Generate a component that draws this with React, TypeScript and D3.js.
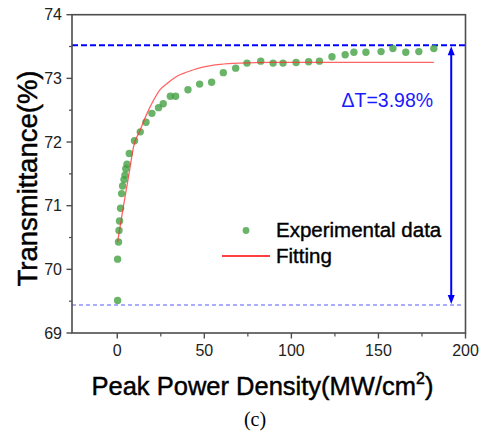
import React, { useLayoutEffect } from "react";
import * as d3 from "d3";

// Experimental data: peak power density (MW/cm^2) vs transmittance (%)
const expX = [0.2, 0.2, 0.7, 1.0, 1.3, 1.9, 2.5, 3.05, 3.85, 4.4, 4.9, 5.6, 6.9, 9.9, 13.2, 16.5, 19.9, 23.7, 26.4, 30.5, 33.5, 40.6, 47.3, 54.2, 60.9, 68.0, 74.5, 82.4, 89.5, 95.2, 102.7, 109.9, 116.1, 123.3, 130.9, 135.9, 142.8, 151.5, 158.3, 165.7, 173.2, 181.8];
const expY = [69.51, 70.16, 70.43, 70.61, 70.76, 70.96, 71.19, 71.31, 71.41, 71.48, 71.58, 71.65, 71.82, 72.02, 72.16, 72.31, 72.45, 72.54, 72.6, 72.72, 72.72, 72.82, 72.91, 72.94, 73.09, 73.16, 73.24, 73.27, 73.24, 73.24, 73.25, 73.26, 73.27, 73.34, 73.37, 73.41, 73.41, 73.42, 73.47, 73.41, 73.42, 73.47];

// Fitting curve
const fitX = [0.2, 3.6, 7.1, 9.4, 13.2, 17.1, 20.9, 24.5, 28.6, 34.0, 40.1, 49.6, 59.2, 70.7, 87.9, 120, 150, 181.8];
const fitY = [70.43, 71.0, 71.56, 71.93, 72.19, 72.45, 72.66, 72.82, 72.92, 73.03, 73.1, 73.18, 73.22, 73.24, 73.25, 73.25, 73.25, 73.25];

const xTicks = [0, 50, 100, 150, 200];
const xMinorTicks = [25, 75, 125, 175];
const yTicks = [69, 70, 71, 72, 73, 74];
const yMinorTicks = [69.5, 70.5, 71.5, 72.5, 73.5];

const upperLevel = 73.52;
const lowerLevel = 69.44;
const arrowX = 191.8;
const deltaLabel = "ΔT=3.98%";

const W = 479;
const H = 434;

export default function App() {
  useLayoutEffect(() => {
    document.body.style.margin = "0";
  }, []);

  const x = d3.scaleLinear().domain([-26, 200]).range([72, 465.5]);
  const y = d3.scaleLinear().domain([69, 74]).range([333, 14.7]);

  const fitLine = d3
    .line<number>()
    .x((_, i) => x(fitX[i]))
    .y((d) => y(d))
    .curve(d3.curveMonotoneX);

  const axisColor = "#4d4d4d";
  const font = "'Liberation Sans', Arial, sans-serif";
  const blue = "#0000ff";

  const ax = x(arrowX);
  const yTop = y(upperLevel);
  const yBot = y(lowerLevel);

  return (
    <svg width={W} height={H} style={{ display: "block" }}>
      <rect width={W} height={H} fill="#fff" />
      <defs>
        <clipPath id="plotclip">
          <rect x={72} y={14.7} width={393.5} height={318.3} />
        </clipPath>
      </defs>

      {/* dashed reference lines */}
      <line x1={x(-26)} x2={x(200)} y1={yTop} y2={yTop} stroke={blue} strokeWidth={2} strokeDasharray="6,3" />
      <line x1={x(-26)} x2={x(198)} y1={yBot} y2={yBot} stroke="#5a5aff" strokeWidth={1.2} strokeDasharray="4,3" />

      {/* double arrow */}
      <line x1={ax} x2={ax} y1={yTop + 6} y2={yBot - 6} stroke={blue} strokeWidth={2} />
      <path d={`M${ax},${yTop + 1} L${ax - 3.5},${yTop + 10} L${ax + 3.5},${yTop + 10} Z`} fill={blue} />
      <path d={`M${ax},${yBot - 1} L${ax - 3.5},${yBot - 10} L${ax + 3.5},${yBot - 10} Z`} fill={blue} />
      <text x={341.5} y={106.5} fontFamily={font} fontSize={19.5} fill="#1a1aff">
        {deltaLabel}
      </text>

      {/* data */}
      <g clipPath="url(#plotclip)">
        {expY.map((v, i) => (
          <circle key={i} cx={x(expX[i])} cy={y(v)} r={3.7} fill="#3f9f3f" fillOpacity={0.78} />
        ))}
        <path d={fitLine(fitY) || ""} fill="none" stroke="#ff3030" strokeOpacity={0.75} strokeWidth={1.3} />
      </g>

      {/* frame */}
      <rect x={72} y={14.7} width={393.5} height={318.3} fill="none" stroke={axisColor} strokeWidth={1.6} />

      {/* y axis ticks */}
      {yTicks.map((t) => (
        <g key={"y" + t}>
          <line x1={66.5} x2={72} y1={y(t)} y2={y(t)} stroke={axisColor} strokeWidth={1.4} />
          <text x={62} y={y(t) + 5.5} textAnchor="end" fontFamily={font} fontSize={16} fill="#222">
            {t}
          </text>
        </g>
      ))}
      {yMinorTicks.map((t) => (
        <line key={"ym" + t} x1={69} x2={72} y1={y(t)} y2={y(t)} stroke={axisColor} strokeWidth={1.2} />
      ))}

      {/* x axis ticks */}
      {xTicks.map((t) => (
        <g key={"x" + t}>
          <line x1={x(t)} x2={x(t)} y1={333} y2={338.5} stroke={axisColor} strokeWidth={1.4} />
          <text x={x(t)} y={355.5} textAnchor="middle" fontFamily={font} fontSize={16} fill="#222">
            {t}
          </text>
        </g>
      ))}
      {xMinorTicks.map((t) => (
        <line key={"xm" + t} x1={x(t)} x2={x(t)} y1={333} y2={336.5} stroke={axisColor} strokeWidth={1.2} />
      ))}

      {/* axis titles */}
      <text x={91.5} y={394.5} fontFamily={font} fontSize={25.5} fill="#000" stroke="#000" strokeWidth={0.45}>
        Peak Power Density(MW/cm
        <tspan fontSize={16} dy={-11}>2</tspan>
        <tspan dy={11}>)</tspan>
      </text>
      <text
        transform={`translate(36.5,178.5) rotate(-90)`}
        textAnchor="middle"
        fontFamily={font}
        fontSize={27.5}
        fill="#000"
        stroke="#000"
        strokeWidth={0.45}
      >
        Transmittance(%)
      </text>

      {/* legend */}
      <circle cx={246} cy={230.5} r={3.4} fill="#3f9f3f" fillOpacity={0.78} />
      <text x={276} y={237} fontFamily={font} fontSize={20.5} fill="#000" stroke="#000" strokeWidth={0.4}>
        Experimental data
      </text>
      <line x1={222} x2={270} y1={256} y2={256} stroke="#ff0000" strokeWidth={1.5} />
      <text x={276} y={263} fontFamily={font} fontSize={20.5} fill="#000" stroke="#000" strokeWidth={0.4}>
        Fitting
      </text>

      {/* caption */}
      <text x={255} y={426} textAnchor="middle" fontFamily="'Liberation Serif', 'Times New Roman', serif" fontSize={20} fill="#000">
        (c)
      </text>
    </svg>
  );
}
